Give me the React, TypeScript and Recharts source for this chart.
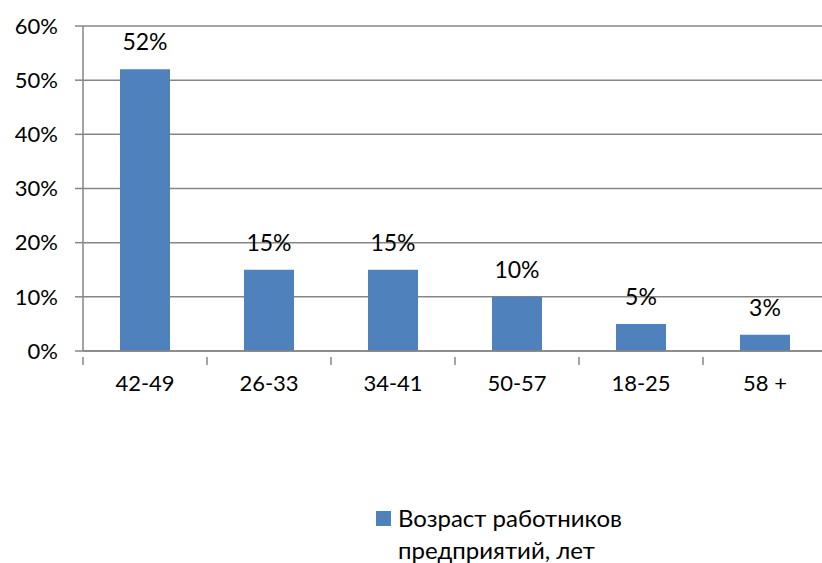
import React from "react";
import { BarChart, Bar, XAxis, YAxis, CartesianGrid, LabelList } from "recharts";

const categories = ["42-49", "26-33", "34-41", "50-57", "18-25", "58 +"];
const values = [52, 15, 15, 10, 5, 3];
const yTicks = [0, 10, 20, 30, 40, 50, 60];
const seriesName = "Возраст работников предприятий, лет";

const data = categories.map((c, i) => ({ name: c, value: values[i] }));

const FONT = "Lato, 'Open Sans', sans-serif";
const BLUE = "#4F81BD";
const GREY = "#868686";
const CHART_W = 827;
const PLOT_LEFT = 83;
const BAND = (CHART_W - PLOT_LEFT) / categories.length;

const XTick = (props: any) => {
  const { x, y, payload } = props;
  const left = x - BAND / 2;
  return (
    <g>
      <line x1={left} y1={y - 18} x2={left} y2={y - 10} stroke={GREY} strokeWidth={1.5} />
      <text x={x} y={y} dy="0.71em" textAnchor="middle" fill="#000" fontSize={22} fontFamily={FONT}>
        {payload.value}
      </text>
    </g>
  );
};

export default function App() {
  return (
    <div style={{ position: "absolute", left: 0, top: 0, width: 822, height: 563, overflow: "hidden", background: "#fff" }}>
      <BarChart
        width={CHART_W}
        height={563}
        data={data}
        margin={{ top: 26, right: 0, bottom: 152, left: 0 }}
      >
        <CartesianGrid horizontal vertical={false} stroke={GREY} strokeWidth={1.5} />
        <XAxis
          dataKey="name"
          axisLine={{ stroke: GREY, strokeWidth: 1.5 }}
          tickLine={false}
          tick={<XTick />}
          tickMargin={18}
          height={60}
          interval={0}
        />
        <YAxis
          width={PLOT_LEFT}
          domain={[0, 60]}
          ticks={yTicks}
          tickFormatter={(v: number) => `${v}%`}
          axisLine={{ stroke: GREY, strokeWidth: 1.5 }}
          tickLine={{ stroke: GREY, strokeWidth: 1.5 }}
          tickSize={8}
          tickMargin={17}
          tick={{ fill: "#000", fontSize: 22, fontFamily: FONT }}
          interval={0}
        />
        <Bar dataKey="value" name={seriesName} fill={BLUE} barSize={50} isAnimationActive={false}>
          <LabelList
            dataKey="value"
            position="top"
            offset={19}
            formatter={(v: any) => `${v}%`}
            style={{ fill: "#000", fontSize: 23, fontFamily: FONT }}
          />
        </Bar>
      </BarChart>
      <div
        style={{
          position: "absolute",
          left: 376,
          top: 502,
          display: "flex",
          alignItems: "flex-start",
          fontFamily: FONT,
          fontSize: 24,
          lineHeight: "32px",
          color: "#000",
        }}
      >
        <div style={{ width: 15, height: 15, background: BLUE, marginTop: 9, marginRight: 7 }} />
        <div style={{ width: 260 }}>{seriesName}</div>
      </div>
    </div>
  );
}
